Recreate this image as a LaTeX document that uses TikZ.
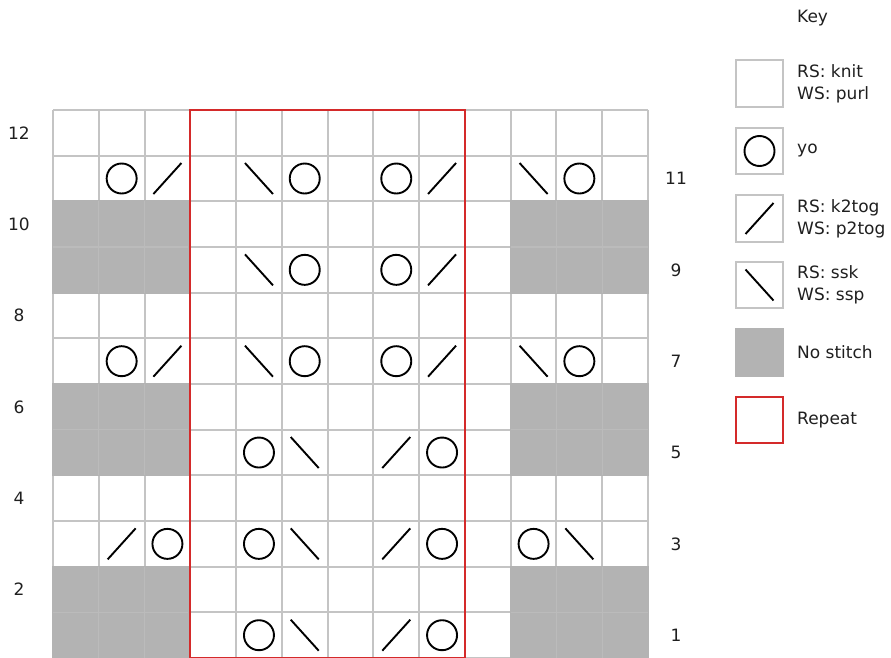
\documentclass[tikz,border=0pt]{standalone}
\usepackage{fontspec}
\setmainfont{DejaVu Sans}
\definecolor{gridgray}{HTML}{C4C4C4}
\definecolor{nostitch}{HTML}{B3B3B3}
\definecolor{faintline}{HTML}{BBBBBB}
\definecolor{repeatred}{HTML}{D42A2A}
\begin{document}
\begin{tikzpicture}[x=1pt,y=-1pt,
  gridline/.style={draw=gridgray,line width=2pt},
  sym/.style={draw=black,line width=1.9pt},
  lbl/.style={font=\fontsize{17}{22}\selectfont,text=black!88,inner sep=0pt},
  keytext/.style={lbl,anchor=west,align=left},
  keybox/.style={draw=gridgray,line width=2pt},
  kyo/.pic={\draw[sym] (0,0) circle (15pt);},
  kk2tog/.pic={\draw[sym] (-14,15.5) -- (14,-15.5);},
  kssk/.pic={\draw[sym] (-14,-15.5) -- (14,15.5);}]
\useasboundingbox (0,0) rectangle (891,658);
% grid
\foreach \i in {0,...,13} \draw[gridline] ({53+\i*45.77},110) -- ({53+\i*45.77},658);
\foreach \j in {0,...,12} \draw[gridline] (53,{110+\j*45.67}) -- (648,{110+\j*45.67});
% no-stitch cells
\foreach \t in {2,6,10} {
  \fill[nostitch] (52,{110+\t*45.67-1}) rectangle ({53+3*45.77-1},{110+(\t+2)*45.67+1});
  \fill[nostitch] ({53+10*45.77-1},{110+\t*45.67-1}) rectangle ({53+13*45.77+1},{110+(\t+2)*45.67+1});
  \draw[faintline,line width=1.2pt] (53,{110+(\t+1)*45.67}) -- ({53+3*45.77-2},{110+(\t+1)*45.67});
  \draw[faintline,line width=1.2pt] ({53+10*45.77},{110+(\t+1)*45.67}) -- ({53+13*45.77},{110+(\t+1)*45.67});
  \foreach \i in {1,2} {
    \draw[faintline,line width=1.2pt] ({53+\i*45.77},{110+\t*45.67}) -- ({53+\i*45.77},{110+(\t+2)*45.67});
    \draw[faintline,line width=1.2pt] ({53+(10+\i)*45.77},{110+\t*45.67}) -- ({53+(10+\i)*45.77},{110+(\t+2)*45.67});
  }
}
% repeat
\draw[repeatred,line width=2pt] ({53+3*45.77},110) rectangle ({53+9*45.77},658);
% symbols
\foreach \c/\r in {2/11,6/11,8/11,12/11,6/9,8/9,2/7,6/7,8/7,12/7,5/5,9/5,3/3,5/3,9/3,11/3,5/1,9/1}
  \pic at ({53+(\c-0.5)*45.77},{110+(12.5-\r)*45.67}) {kyo};
\foreach \c/\r in {3/11,9/11,9/9,3/7,9/7,8/5,2/3,8/3,8/1}
  \pic at ({53+(\c-0.5)*45.77},{110+(12.5-\r)*45.67}) {kk2tog};
\foreach \c/\r in {5/11,11/11,5/9,5/7,11/7,6/5,6/3,12/3,6/1}
  \pic at ({53+(\c-0.5)*45.77},{110+(12.5-\r)*45.67}) {kssk};
% row numbers
\foreach \r in {12,10,8,6,4,2}
  \node[lbl] (row\r) at (19,{110+(12.5-\r)*45.67}) {\r};
\foreach \r in {11,9,7,5,3,1}
  \node[lbl] (row\r) at (676,{110+(12.5-\r)*45.67}) {\r};
% key
\node[lbl,anchor=west] (keytitle) at (797,18) {Key};
\draw[keybox] (736,60) rectangle (783,107);
\node[keytext] (k1) at (797,83.5) {RS: knit\\WS: purl};
\draw[keybox] (736,128) rectangle (783,174);
\pic at (759.5,151) {kyo};
\node[keytext] (k2) at (797,151) {yo};
\draw[keybox] (736,195) rectangle (783,242);
\pic at (759.5,218.5) {kk2tog};
\node[keytext] (k3) at (797,218.5) {RS: k2tog\\WS: p2tog};
\draw[keybox] (736,262) rectangle (783,308);
\pic at (759.5,285) {kssk};
\node[keytext] (k4) at (797,285) {RS: ssk\\WS: ssp};
\fill[nostitch] (735,328) rectangle (784,377);
\node[keytext] (k5) at (797,352.5) {No stitch};
\draw[repeatred,line width=2.4pt] (736,397) rectangle (783,443);
\node[keytext] (k6) at (797,420) {Repeat};
\end{tikzpicture}
\end{document}
